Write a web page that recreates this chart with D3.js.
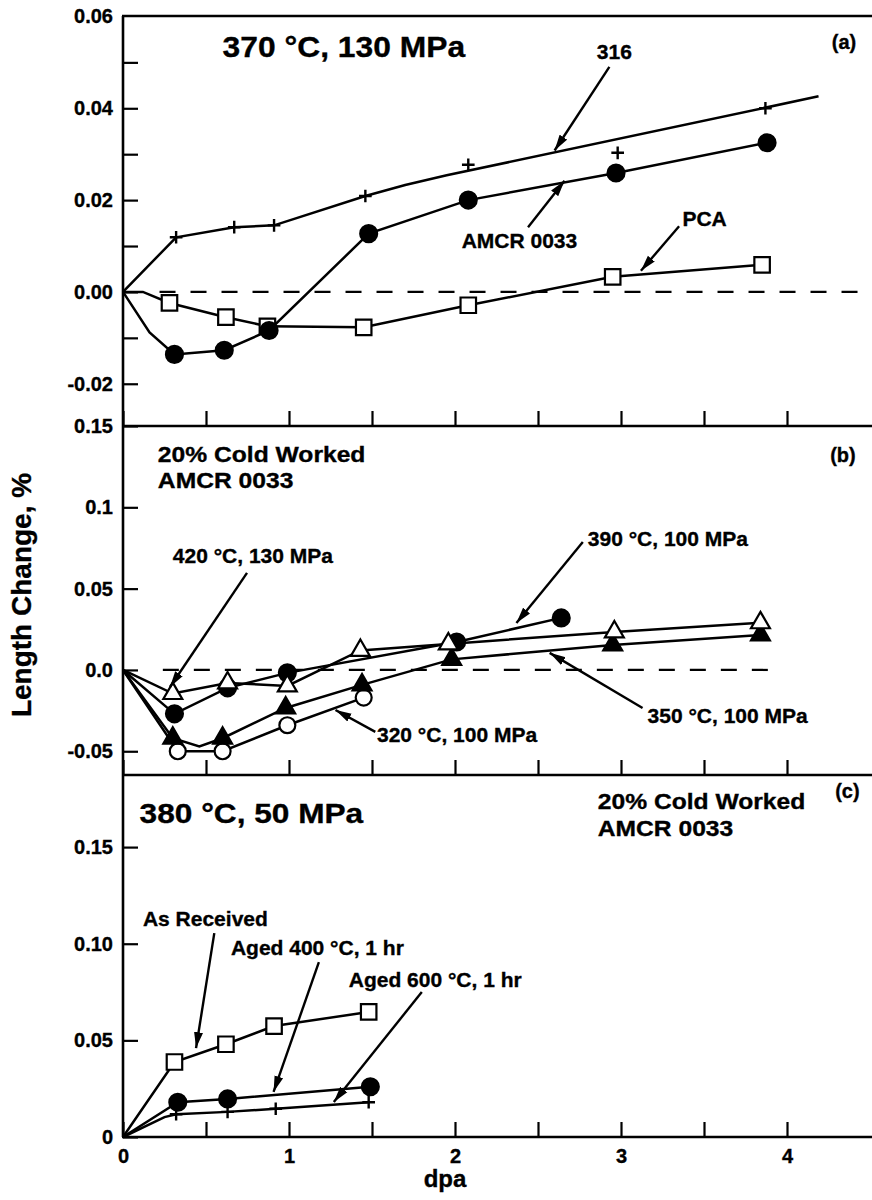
<!DOCTYPE html>
<html>
<head>
<meta charset="utf-8">
<script src="https://cdn.jsdelivr.net/npm/d3@7"></script>
<style>
  body { margin: 0; background: #fff; }
  svg { display: block; }
  text { font-family: "Liberation Sans", Arial, Helvetica, sans-serif; font-weight: bold; fill: #000; stroke: #000; stroke-width: 0.35; }
  .frame { stroke: #000; stroke-width: 2.6; }
  .tick line { stroke: #000; stroke-width: 2.2; }
  .curve { fill: none; stroke: #000; stroke-width: 2.5; }
  .zero { stroke: #000; stroke-width: 2.2; stroke-dasharray: 16 15; }
  .arrow { stroke: #000; stroke-width: 2.4; }
</style>
</head>
<body>
<script>
// ---------- data (dpa, length change %) ----------

// (a) 370 °C, 130 MPa
const dpa316 = [0.32, 0.67, 0.91, 1.46, 2.08, 2.98, 3.87];
const len316 = [0.0119, 0.0141, 0.0145, 0.0209, 0.0277, 0.0303, 0.0400];
// the 316 curve is a fit, it does not go through the last points
const fit316Dpa = [0, 0.32, 0.67, 0.91, 1.46, 1.70, 1.95, 4.19];
const fit316Len = [0, 0.0119, 0.0141, 0.0145, 0.0209, 0.0233, 0.0254, 0.0426];

const dpaAmcrA = [0.31, 0.61, 0.88, 1.48, 2.08, 2.97, 3.88];
const lenAmcrA = [-0.0136, -0.0127, -0.0084, 0.0127, 0.0200, 0.0259, 0.0325];
const startAmcrA = [[0, 0], [0.16, -0.0088]];

const dpaPcaA = [0.28, 0.62, 0.87, 1.45, 2.08, 2.95, 3.85];
const lenPcaA = [-0.0024, -0.0055, -0.0075, -0.0077, -0.0029, 0.0033, 0.0059];
const startPcaA = [[0, 0], [0.12, 0]];

// (b) 20% cold worked AMCR 0033
const dpa420 = [0.30, 0.63, 0.99, 1.43, 1.96, 2.96, 3.84];
const len420 = [-0.0145, -0.0080, -0.0098, 0.0120, 0.0160, 0.0234, 0.0290];
const dpa390 = [0.31, 0.63, 0.99, 2.01, 2.64];
const len390 = [-0.0270, -0.0110, -0.0018, 0.0172, 0.0320];
const dpa350 = [0.30, 0.60, 0.98, 1.44, 1.98, 2.95, 3.84];
const len350 = [-0.0420, -0.0420, -0.0234, -0.0092, 0.0065, 0.0154, 0.0215];
const dip350 = [0.46, -0.0470];
const dpa320 = [0.33, 0.60, 0.99, 1.45];
const len320 = [-0.0500, -0.0500, -0.0340, -0.0170];

// (c) 380 °C, 50 MPa
const dpaAR = [0.31, 0.62, 0.91, 1.48];
const lenAR = [0.0388, 0.0480, 0.0574, 0.0647];
const dpa400 = [0.33, 0.63, 1.49];
const len400 = [0.0180, 0.0197, 0.0260];
const dpa600 = [0.32, 0.63, 0.92, 1.48];
const len600 = [0.0118, 0.0130, 0.0146, 0.0180];
const start600 = [[0, 0], [0.25, 0.0103]];

// ticks
const ticksA = [-0.02, 0, 0.02, 0.04, 0.06];
const labelsA = ["-0.02", "0.00", "0.02", "0.04", "0.06"];
const minorA = [-0.01, 0.01, 0.03, 0.05];
const ticksB = [-0.05, 0, 0.05, 0.1, 0.15];
const labelsB = ["-0.05", "0.0", "0.05", "0.1", "0.15"];
const ticksC = [0, 0.05, 0.10, 0.15];
const labelsC = ["0", "0.05", "0.10", "0.15"];
const dpaTicks = [0, 0.5, 1, 1.5, 2, 2.5, 3, 3.5, 4];
const dpaLabels = ["0", "", "1", "", "2", "", "3", "", "4"];

// annotations (in data units of each panel)
const notesA = [
  {t: "370 °C, 130 MPa", x: 0.60, y: 0.0512, size: 30, sx: 1.06},
  {t: "(a)", x: 4.27, y: 0.0530, size: 20},
  {t: "316", x: 2.96, y: 0.0508, size: 21, anchor: "middle"},
  {t: "AMCR 0033", x: 2.04, y: 0.0095, size: 21},
  {t: "PCA", x: 3.37, y: 0.0143, size: 21}
];
const arrowsA = [[2.93, 0.0490, 2.60, 0.0308], [2.44, 0.0141, 2.66, 0.0242], [3.35, 0.0143, 3.12, 0.0046]];

const notesB = [
  {t: "20% Cold Worked", x: 0.21, y: 0.128, size: 22, sx: 1.12},
  {t: "AMCR 0033", x: 0.21, y: 0.112, size: 22, sx: 1.12},
  {t: "(b)", x: 4.26, y: 0.128, size: 20},
  {t: "420 °C, 130 MPa", x: 0.30, y: 0.0658, size: 21},
  {t: "390 °C, 100 MPa", x: 2.80, y: 0.0763, size: 21},
  {t: "350 °C, 100 MPa", x: 3.16, y: -0.0326, size: 21},
  {t: "320 °C, 100 MPa", x: 1.53, y: -0.0443, size: 21}
];
const arrowsB = [[0.747, 0.0597, 0.283, -0.0105], [2.77, 0.0787, 2.37, 0.0289],
                 [3.13, -0.0234, 2.57, 0.0105], [1.52, -0.0381, 1.28, -0.0246]];

const notesC = [
  {t: "380 °C, 50 MPa", x: 0.10, y: 0.1624, size: 28, sx: 1.13},
  {t: "20% Cold Worked", x: 2.86, y: 0.1697, size: 22, sx: 1.12},
  {t: "AMCR 0033", x: 2.86, y: 0.1557, size: 22, sx: 1.12},
  {t: "(c)", x: 4.29, y: 0.1754, size: 20},
  {t: "As Received", x: 0.12, y: 0.1092, size: 21},
  {t: "Aged 400 °C, 1 hr", x: 0.65, y: 0.0942, size: 21},
  {t: "Aged 600 °C, 1 hr", x: 1.36, y: 0.0776, size: 21}
];
const arrowsC = [[0.55, 0.1055, 0.44, 0.046], [1.18, 0.0905, 0.907, 0.0233], [1.80, 0.075, 1.27, 0.0181]];

// ---------- layout ----------
const W = 872, H = 1200;
const left = 123, right = 872;
const x = d3.scaleLinear().domain([0, 4.5]).range([left, 870]);
const ya = d3.scaleLinear().domain([-0.0292, 0.0601]).range([426, 16]);
const yb = d3.scaleLinear().domain([-0.0646, 0.150]).range([775, 426]);
const yc = d3.scaleLinear().domain([0, 0.1873]).range([1137, 775]);

const svg = d3.select("body").append("svg").attr("width", W).attr("height", H);

svg.append("defs").append("marker")
  .attr("id", "ah").attr("viewBox", "0 -5 16 10")
  .attr("refX", 16).attr("refY", 0)
  .attr("markerWidth", 16).attr("markerHeight", 10)
  .attr("markerUnits", "userSpaceOnUse").attr("orient", "auto")
  .append("path").attr("d", "M0,-4.5L16,0L0,4.5Z").attr("fill", "#000");

// thin plus symbol
const plus = {
  draw(ctx, size) {
    const r = Math.sqrt(size) / 2;
    ctx.moveTo(-r, 0); ctx.lineTo(r, 0);
    ctx.moveTo(0, -r); ctx.lineTo(0, r);
  }
};

const zip = (xs, ys) => xs.map((d, i) => [d, ys[i]]);

function curve(g, y, pts) {
  g.append("path").attr("class", "curve")
    .attr("d", d3.line().x(d => x(d[0])).y(d => y(d[1]))(pts));
}

function marks(g, y, pts, type, size, filled) {
  g.selectAll(null).data(pts).join("path")
    .attr("transform", d => `translate(${x(d[0])},${y(d[1])})`)
    .attr("d", d3.symbol().type(type).size(size))
    .attr("fill", type === plus ? "none" : (filled ? "#000" : "#fff"))
    .attr("stroke", "#000")
    .attr("stroke-width", type === plus ? 2.4 : 2.2);
}

function notes(g, y, list) {
  g.selectAll(null).data(list).join("text")
    .attr("transform", d => `translate(${x(d.x)},${y(d.y)}) scale(${d.sx || 1},1)`)
    .attr("font-size", d => d.size)
    .attr("text-anchor", d => d.anchor || "start")
    .text(d => d.t);
}

function arrows(g, y, list) {
  g.selectAll(null).data(list).join("line").attr("class", "arrow")
    .attr("x1", d => x(d[0])).attr("y1", d => y(d[1]))
    .attr("x2", d => x(d[2])).attr("y2", d => y(d[3]))
    .attr("marker-end", "url(#ah)");
}

function yAxis(y, vals, labels, minor) {
  const g = svg.append("g").attr("transform", `translate(${left},0)`);
  g.call(d3.axisLeft(y).tickValues(vals).tickFormat((d, i) => labels[i])
      .tickSizeInner(-15).tickSizeOuter(0).tickPadding(10))
    .attr("font-size", 20).attr("font-family", null);
  if (minor) {
    g.append("g").call(d3.axisLeft(y).tickValues(minor).tickFormat("")
      .tickSizeInner(-15).tickSizeOuter(0));
  }
  g.selectAll(".domain").remove();
  return g;
}

function xAxis(yPos, withLabels) {
  const g = svg.append("g").attr("transform", `translate(0,${yPos})`);
  g.call(d3.axisBottom(x).tickValues(dpaTicks)
      .tickFormat((d, i) => withLabels ? dpaLabels[i] : "")
      .tickSizeInner(-15).tickSizeOuter(0).tickPadding(12))
    .attr("font-size", 20).attr("font-family", null);
  g.select(".domain").remove();
}

// ---------- axes and frame ----------
const gA = yAxis(ya, ticksA, labelsA, minorA);
gA.selectAll(".tick").filter(d => d === 0.06).select("line").remove();
yAxis(yb, ticksB, labelsB);
yAxis(yc, ticksC, labelsC);
xAxis(ya.range()[0], false);
xAxis(yb.range()[0], false);
xAxis(yc.range()[0], true);

[ya.range()[1], ya.range()[0], yb.range()[0], yc.range()[0]].forEach(yy => {
  svg.append("line").attr("class", "frame").attr("x1", left - 1).attr("x2", right).attr("y1", yy).attr("y2", yy);
});
svg.append("line").attr("class", "frame").attr("x1", left).attr("x2", left)
  .attr("y1", ya.range()[1]).attr("y2", yc.range()[0]);

// ---------- panel (a) ----------
const pa = svg.append("g");
pa.append("line").attr("class", "zero").attr("x1", x(0.22)).attr("x2", right).attr("y1", ya(0)).attr("y2", ya(0));
curve(pa, ya, d3.zip(fit316Dpa, fit316Len));
curve(pa, ya, startAmcrA.concat(zip(dpaAmcrA, lenAmcrA)));
curve(pa, ya, startPcaA.concat(zip(dpaPcaA, lenPcaA)));
marks(pa, ya, zip(dpaPcaA, lenPcaA), d3.symbolSquare, 240, false);
marks(pa, ya, zip(dpaAmcrA, lenAmcrA), d3.symbolCircle, 225, true);
marks(pa, ya, zip(dpa316, len316), plus, 160);
arrows(pa, ya, arrowsA);
notes(pa, ya, notesA);

// ---------- panel (b) ----------
const pb = svg.append("g");
pb.append("line").attr("class", "zero").attr("x1", x(0.24)).attr("x2", x(3.92)).attr("y1", yb(0)).attr("y2", yb(0));
const p350 = zip(dpa350, len350);
curve(pb, yb, [[0, 0]].concat(zip(dpa320, len320)));
curve(pb, yb, [[0, 0], p350[0], dip350].concat(p350.slice(1)));
curve(pb, yb, [[0, 0]].concat(zip(dpa390, len390)));
curve(pb, yb, [[0, 0]].concat(zip(dpa420, len420)));
marks(pb, yb, zip(dpa320, len320), d3.symbolCircle, 200, false);
marks(pb, yb, p350, d3.symbolTriangle, 155, true);
marks(pb, yb, zip(dpa390, len390), d3.symbolCircle, 225, true);
marks(pb, yb, zip(dpa420, len420), d3.symbolTriangle, 155, false);
arrows(pb, yb, arrowsB);
notes(pb, yb, notesB);

// ---------- panel (c) ----------
const pc = svg.append("g");
curve(pc, yc, [[0, 0]].concat(zip(dpaAR, lenAR)));
curve(pc, yc, [[0, 0]].concat(zip(dpa400, len400)));
curve(pc, yc, start600.concat(zip(dpa600, len600)));
marks(pc, yc, zip(dpaAR, lenAR), d3.symbolSquare, 240, false);
marks(pc, yc, zip(dpa400, len400), d3.symbolCircle, 225, true);
marks(pc, yc, zip(dpa600, len600), plus, 160);
arrows(pc, yc, arrowsC);
notes(pc, yc, notesC);

// ---------- axis titles ----------
svg.append("text")
  .attr("transform", "translate(31,595) rotate(-90)")
  .attr("text-anchor", "middle").attr("font-size", 28)
  .text("Length Change, %");
svg.append("text")
  .attr("x", 445).attr("y", 1187)
  .attr("text-anchor", "middle").attr("font-size", 24)
  .text("dpa");
</script>
</body>
</html>
